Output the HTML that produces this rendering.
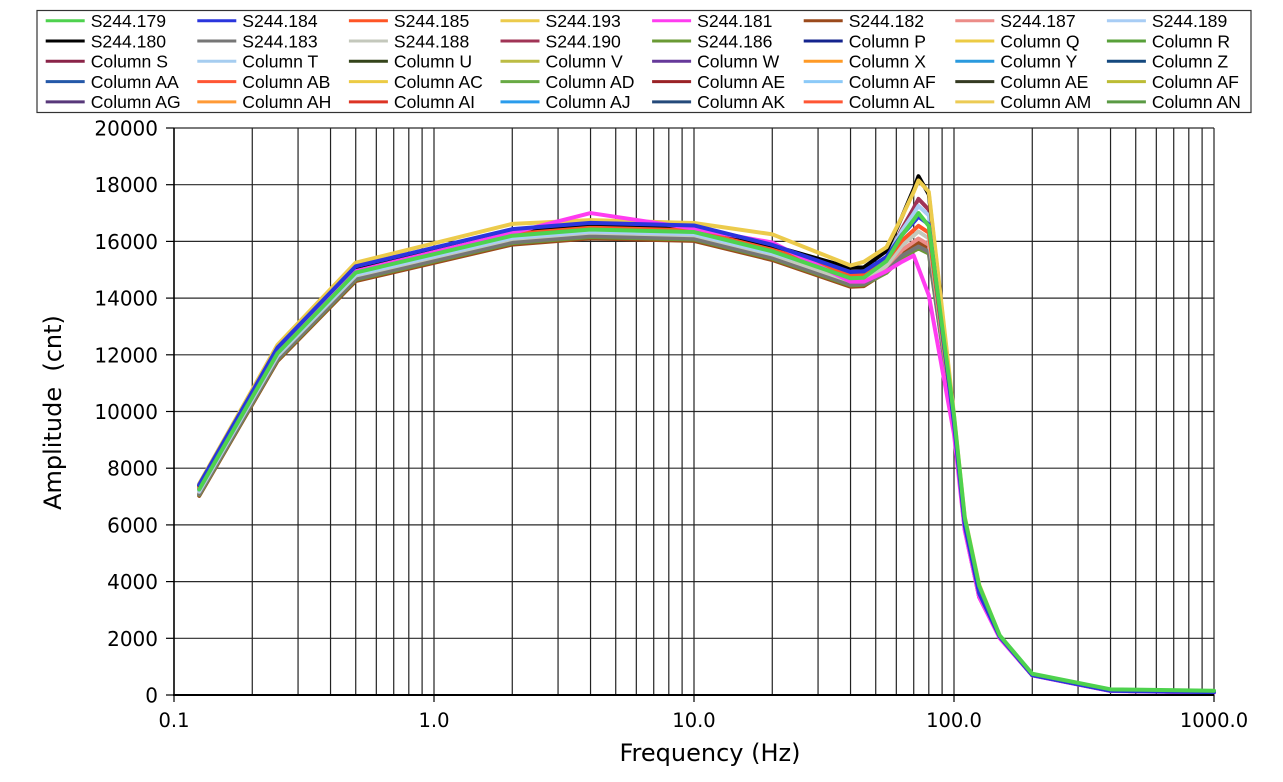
<!DOCTYPE html>
<html><head><meta charset="utf-8"><style>
html,body{margin:0;padding:0;background:#fff;}
svg{display:block;}
.lg text{font-family:"Liberation Sans",Arial,sans-serif;font-size:17.6px;fill:#000;}
.ax{font-family:"DejaVu Sans","Liberation Sans",sans-serif;fill:#000;}
</style></head><body>
<svg id="c" width="1283" height="782" viewBox="0 0 1283 782" xmlns="http://www.w3.org/2000/svg">
<rect x="0" y="0" width="1283" height="782" fill="#fff"/>
<g id="grid"></g>
<g id="series" fill="none" stroke-linejoin="round" stroke-linecap="round"></g>
<!-- axes -->
<line x1="174" y1="128" x2="174" y2="696" stroke="#000" stroke-width="1.6"/>
<line x1="173" y1="695" x2="1214" y2="695" stroke="#000" stroke-width="2"/>
<g stroke="#000" stroke-width="1.2">
<line x1="166" y1="128" x2="174" y2="128"/><line x1="166" y1="184.7" x2="174" y2="184.7"/>
<line x1="166" y1="241.4" x2="174" y2="241.4"/><line x1="166" y1="298.1" x2="174" y2="298.1"/>
<line x1="166" y1="354.8" x2="174" y2="354.8"/><line x1="166" y1="411.5" x2="174" y2="411.5"/>
<line x1="166" y1="468.2" x2="174" y2="468.2"/><line x1="166" y1="524.9" x2="174" y2="524.9"/>
<line x1="166" y1="581.6" x2="174" y2="581.6"/><line x1="166" y1="638.3" x2="174" y2="638.3"/>
<line x1="166" y1="695" x2="174" y2="695"/>
<line x1="174" y1="695" x2="174" y2="702"/><line x1="434" y1="695" x2="434" y2="702"/>
<line x1="694" y1="695" x2="694" y2="702"/><line x1="954" y1="695" x2="954" y2="702"/>
<line x1="1214" y1="695" x2="1214" y2="702"/>
</g>
<g class="ax" font-size="20" text-anchor="end">
<text x="158" y="135.5">20000</text><text x="158" y="192.2">18000</text>
<text x="158" y="248.9">16000</text><text x="158" y="305.6">14000</text>
<text x="158" y="362.3">12000</text><text x="158" y="419">10000</text>
<text x="158" y="475.7">8000</text><text x="158" y="532.4">6000</text>
<text x="158" y="589.1">4000</text><text x="158" y="645.8">2000</text>
<text x="158" y="702.5">0</text>
</g>
<g class="ax" font-size="19.5" text-anchor="middle">
<text x="174" y="727">0.1</text><text x="434" y="727">1.0</text>
<text x="694" y="727">10.0</text><text x="954" y="727">100.0</text>
<text x="1214" y="727">1000.0</text>
</g>
<text class="ax" x="710" y="761" font-size="24" text-anchor="middle">Frequency (Hz)</text>
<text class="ax" font-size="24" text-anchor="middle" transform="translate(61,412.5) rotate(-90)" xml:space="preserve">Amplitude  (cnt)</text>

<!-- legend -->
<rect x="37" y="10.5" width="1214" height="102" fill="#fff" stroke="#333" stroke-width="1.2"/>
<g class="lg" stroke-width="3">
<g transform="translate(45.7,20.7)"><line x1="0" y1="0" x2="39" y2="0" stroke="#4ed24e"/><text x="45" y="6.3" stroke="none">S244.179</text></g>
<g transform="translate(197.3,20.7)"><line x1="0" y1="0" x2="39" y2="0" stroke="#2a35dd"/><text x="45" y="6.3" stroke="none">S244.184</text></g>
<g transform="translate(348.9,20.7)"><line x1="0" y1="0" x2="39" y2="0" stroke="#ff5526"/><text x="45" y="6.3" stroke="none">S244.185</text></g>
<g transform="translate(500.5,20.7)"><line x1="0" y1="0" x2="39" y2="0" stroke="#eccb4c"/><text x="45" y="6.3" stroke="none">S244.193</text></g>
<g transform="translate(652.1,20.7)"><line x1="0" y1="0" x2="39" y2="0" stroke="#ff3cf0"/><text x="45" y="6.3" stroke="none">S244.181</text></g>
<g transform="translate(803.7,20.7)"><line x1="0" y1="0" x2="39" y2="0" stroke="#9b4a1c"/><text x="45" y="6.3" stroke="none">S244.182</text></g>
<g transform="translate(955.3,20.7)"><line x1="0" y1="0" x2="39" y2="0" stroke="#ec8c88"/><text x="45" y="6.3" stroke="none">S244.187</text></g>
<g transform="translate(1106.9,20.7)"><line x1="0" y1="0" x2="39" y2="0" stroke="#a8cdf5"/><text x="45" y="6.3" stroke="none">S244.189</text></g>

<g transform="translate(45.7,41)"><line x1="0" y1="0" x2="39" y2="0" stroke="#000"/><text x="45" y="6.3" stroke="none">S244.180</text></g>
<g transform="translate(197.3,41)"><line x1="0" y1="0" x2="39" y2="0" stroke="#767676"/><text x="45" y="6.3" stroke="none">S244.183</text></g>
<g transform="translate(348.9,41)"><line x1="0" y1="0" x2="39" y2="0" stroke="#c4c8bc"/><text x="45" y="6.3" stroke="none">S244.188</text></g>
<g transform="translate(500.5,41)"><line x1="0" y1="0" x2="39" y2="0" stroke="#a03456"/><text x="45" y="6.3" stroke="none">S244.190</text></g>
<g transform="translate(652.1,41)"><line x1="0" y1="0" x2="39" y2="0" stroke="#6a9a34"/><text x="45" y="6.3" stroke="none">S244.186</text></g>
<g transform="translate(803.7,41)"><line x1="0" y1="0" x2="39" y2="0" stroke="#14248e"/><text x="45" y="6.3" stroke="none">Column P</text></g>
<g transform="translate(955.3,41)"><line x1="0" y1="0" x2="39" y2="0" stroke="#eccb44"/><text x="45" y="6.3" stroke="none">Column Q</text></g>
<g transform="translate(1106.9,41)"><line x1="0" y1="0" x2="39" y2="0" stroke="#58a03a"/><text x="45" y="6.3" stroke="none">Column R</text></g>

<g transform="translate(45.7,61.3)"><line x1="0" y1="0" x2="39" y2="0" stroke="#8a2448"/><text x="45" y="6.3" stroke="none">Column S</text></g>
<g transform="translate(197.3,61.3)"><line x1="0" y1="0" x2="39" y2="0" stroke="#a6cdf0"/><text x="45" y="6.3" stroke="none">Column T</text></g>
<g transform="translate(348.9,61.3)"><line x1="0" y1="0" x2="39" y2="0" stroke="#34441a"/><text x="45" y="6.3" stroke="none">Column U</text></g>
<g transform="translate(500.5,61.3)"><line x1="0" y1="0" x2="39" y2="0" stroke="#bcbc44"/><text x="45" y="6.3" stroke="none">Column V</text></g>
<g transform="translate(652.1,61.3)"><line x1="0" y1="0" x2="39" y2="0" stroke="#66399a"/><text x="45" y="6.3" stroke="none">Column W</text></g>
<g transform="translate(803.7,61.3)"><line x1="0" y1="0" x2="39" y2="0" stroke="#ff9a26"/><text x="45" y="6.3" stroke="none">Column X</text></g>
<g transform="translate(955.3,61.3)"><line x1="0" y1="0" x2="39" y2="0" stroke="#2a9ade"/><text x="45" y="6.3" stroke="none">Column Y</text></g>
<g transform="translate(1106.9,61.3)"><line x1="0" y1="0" x2="39" y2="0" stroke="#14487e"/><text x="45" y="6.3" stroke="none">Column Z</text></g>

<g transform="translate(45.7,81.6)"><line x1="0" y1="0" x2="39" y2="0" stroke="#2458a8"/><text x="45" y="6.3" stroke="none">Column AA</text></g>
<g transform="translate(197.3,81.6)"><line x1="0" y1="0" x2="39" y2="0" stroke="#ff5634"/><text x="45" y="6.3" stroke="none">Column AB</text></g>
<g transform="translate(348.9,81.6)"><line x1="0" y1="0" x2="39" y2="0" stroke="#eccb44"/><text x="45" y="6.3" stroke="none">Column AC</text></g>
<g transform="translate(500.5,81.6)"><line x1="0" y1="0" x2="39" y2="0" stroke="#68aa44"/><text x="45" y="6.3" stroke="none">Column AD</text></g>
<g transform="translate(652.1,81.6)"><line x1="0" y1="0" x2="39" y2="0" stroke="#9a2226"/><text x="45" y="6.3" stroke="none">Column AE</text></g>
<g transform="translate(803.7,81.6)"><line x1="0" y1="0" x2="39" y2="0" stroke="#8ccaf8"/><text x="45" y="6.3" stroke="none">Column AF</text></g>
<g transform="translate(955.3,81.6)"><line x1="0" y1="0" x2="39" y2="0" stroke="#343a22"/><text x="45" y="6.3" stroke="none">Column AE</text></g>
<g transform="translate(1106.9,81.6)"><line x1="0" y1="0" x2="39" y2="0" stroke="#bcbc34"/><text x="45" y="6.3" stroke="none">Column AF</text></g>

<g transform="translate(45.7,101.9)"><line x1="0" y1="0" x2="39" y2="0" stroke="#58387a"/><text x="45" y="6.3" stroke="none">Column AG</text></g>
<g transform="translate(197.3,101.9)"><line x1="0" y1="0" x2="39" y2="0" stroke="#ff9a36"/><text x="45" y="6.3" stroke="none">Column AH</text></g>
<g transform="translate(348.9,101.9)"><line x1="0" y1="0" x2="39" y2="0" stroke="#dd3424"/><text x="45" y="6.3" stroke="none">Column AI</text></g>
<g transform="translate(500.5,101.9)"><line x1="0" y1="0" x2="39" y2="0" stroke="#2a9cec"/><text x="45" y="6.3" stroke="none">Column AJ</text></g>
<g transform="translate(652.1,101.9)"><line x1="0" y1="0" x2="39" y2="0" stroke="#244a7a"/><text x="45" y="6.3" stroke="none">Column AK</text></g>
<g transform="translate(803.7,101.9)"><line x1="0" y1="0" x2="39" y2="0" stroke="#ff5634"/><text x="45" y="6.3" stroke="none">Column AL</text></g>
<g transform="translate(955.3,101.9)"><line x1="0" y1="0" x2="39" y2="0" stroke="#eccb54"/><text x="45" y="6.3" stroke="none">Column AM</text></g>
<g transform="translate(1106.9,101.9)"><line x1="0" y1="0" x2="39" y2="0" stroke="#5a9a44"/><text x="45" y="6.3" stroke="none">Column AN</text></g>
</g>
</svg>
<script>
(function(){
var NS="http://www.w3.org/2000/svg";
function fx(f){return 174+260*(Math.log10(f)+1);}
function vy(v){return 695-v*0.02835;}
function el(t,a,p){var e=document.createElementNS(NS,t);for(var k in a)e.setAttribute(k,a[k]);p.appendChild(e);return e;}
var g=document.getElementById('grid');
for(var i=1;i<=10;i++){var y=695-i*56.7;el('line',{x1:174,y1:y,x2:1214,y2:y,stroke:'#2a2a2a','stroke-width':1.2},g);}
for(var d=-1;d<=2;d++){for(var k=1;k<=9;k++){var f=k*Math.pow(10,d);if(f<=0.1)continue;var x=fx(f);
 el('line',{x1:x,y1:128,x2:x,y2:695,stroke:'#222','stroke-width':1.2},g);}}
el('line',{x1:1214,y1:128,x2:1214,y2:695,stroke:'#222','stroke-width':1.2},g);

var LF=[0.125,0.25,0.5,2,4,10,20,40,45];
var base=[7250,12050,14900,16200,16420,16330,15650,14700,14720];
var TF=[100,110,125,150,200,400,1000], tail=[9600,6000,3600,2050,700,150,100];
function mk(o){
  var low=o.low||base.map(function(v,i){var off=(i>=7&&o.offM!==undefined)?o.offM:o.off;return v+off*(0.5+0.5*v/16000);});
  var pts=LF.map(function(f,i){return [f,low[i]];});
  var v45=low[8],P=o.P;
  var r=Math.max(0,Math.min(1,(18150-P)/2200));
  var f55=0.18+0.15*r, f63=0.55+0.2*r, f70=0.86+0.07*r;
  var f80=o.f80||0.86;
  pts.push([55,v45+(P-v45)*f55],[63,v45+(P-v45)*f63],[70,v45+(P-v45)*f70],[73,P],[80,v45+(P-v45)*f80]);
  var to=o.to||0;
  TF.forEach(function(f,i){pts.push([f,tail[i]+(i<3?to+(P-17000)*0.12:to*0.2)]);});
  return pts;
}
var S=[
 {c:'#9b4a1c',off:-310,P:15970},
 {c:'#ec8c88',off:-180,P:16100},
 {c:'#6a9a34',off:-260,P:15750},
 {c:'#767676',off:-230,P:15820},
 {c:'#c4c8bc',off:-110,P:16350},
 {c:'#a03456',off:60,P:17500},
 {c:'#a8cdf5',off:-70,offM:150,P:17250},
 {c:'#ff5526',off:110,P:16550},
 {c:'#000000',off:200,offM:380,P:18300,f80:0.8},
 {c:'#eccb4c',low:[7450,12350,15250,16620,16750,16650,16250,15150,15280],P:18150,to:150},
 {c:'#ff3cf0',pts:[[0.125,7250],[0.25,12050],[0.5,14950],[2,16300],[4,17000],[10,16450],[20,15960],[40,14580],[45,14580],[55,14950],[63,15280],[70,15500],[80,14100],[100,9200],[110,5800],[125,3450],[150,2000],[200,690],[400,140],[1000,90]]},
 {c:'#2a35dd',off:230,P:16870},
 {c:'#4ed24e',off:0,P:17000,to:250,f80:0.8}
];
var sg=document.getElementById('series');
S.forEach(function(s){
  var pts=s.pts||mk(s);
  var d=pts.map(function(p,i){return (i?'L':'M')+fx(p[0]).toFixed(2)+','+vy(p[1]).toFixed(2);}).join(' ');
  el('path',{d:d,stroke:s.c,'stroke-width':4},sg);
});
})();
</script>
</body></html>
